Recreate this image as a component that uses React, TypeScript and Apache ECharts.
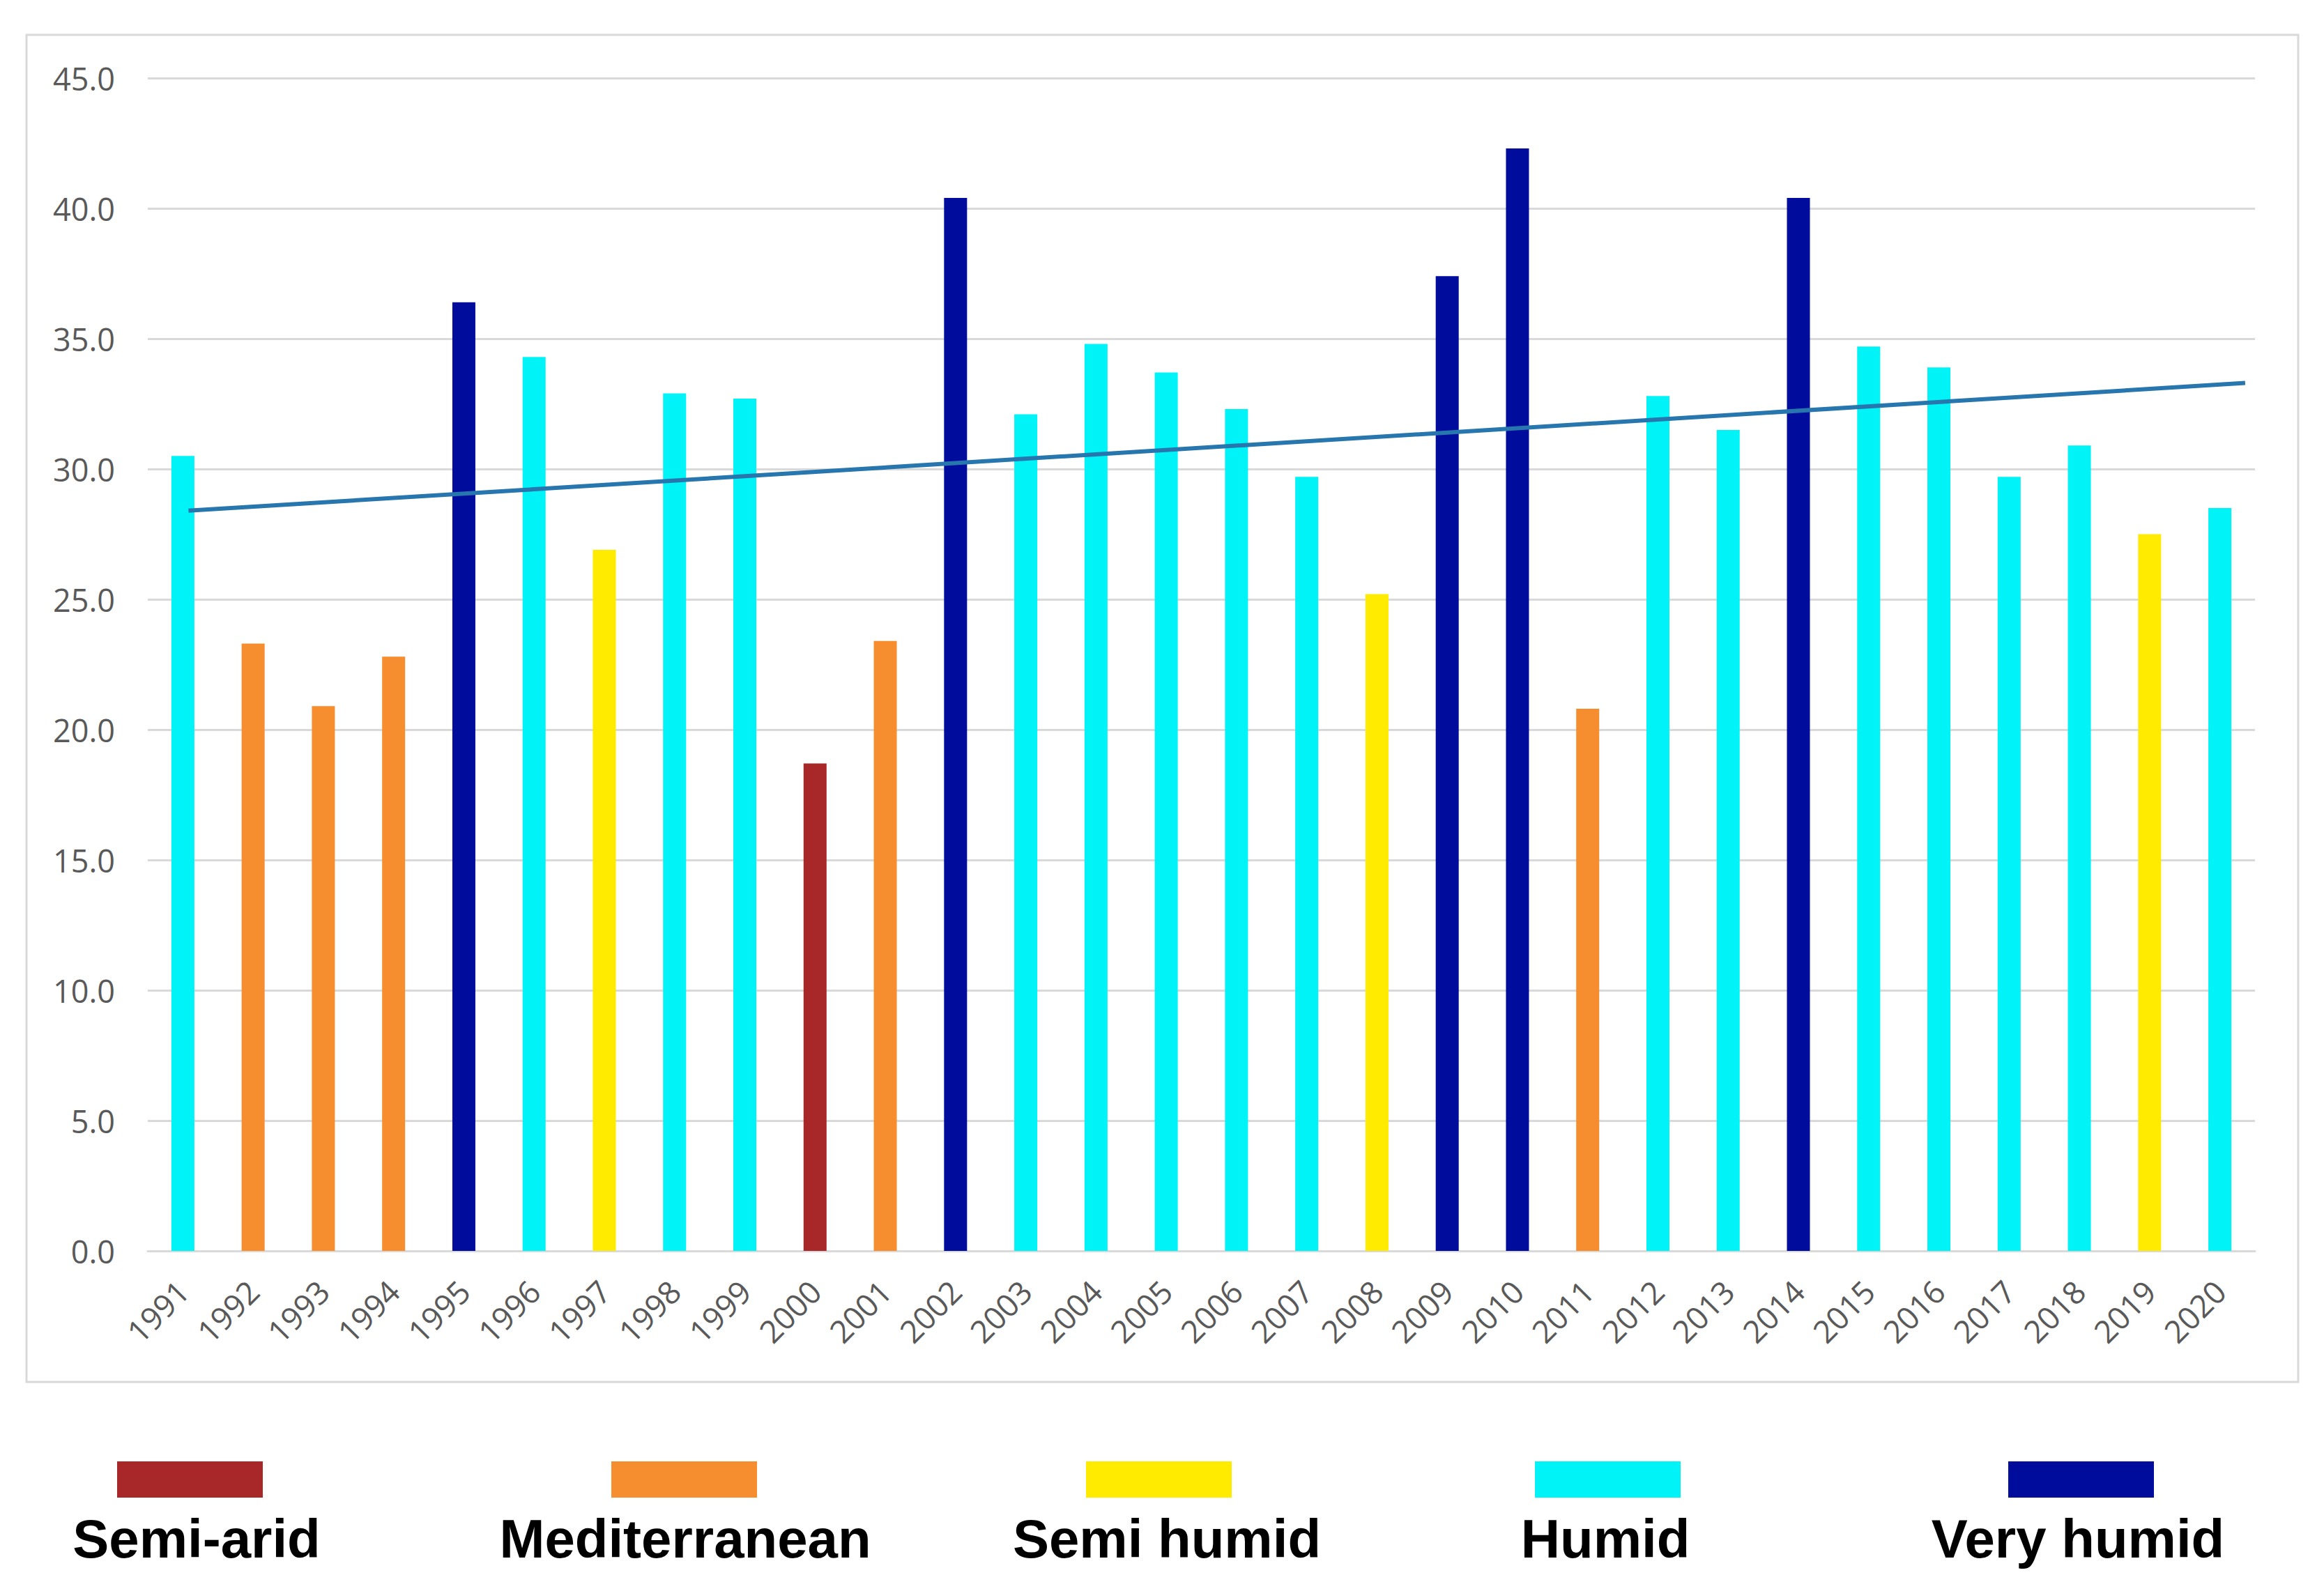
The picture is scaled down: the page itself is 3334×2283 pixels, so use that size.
import React, { useEffect, useRef } from "react";
import * as echarts from "echarts";

const years = [
  "1991", "1992", "1993", "1994", "1995", "1996", "1997", "1998", "1999", "2000",
  "2001", "2002", "2003", "2004", "2005", "2006", "2007", "2008", "2009", "2010",
  "2011", "2012", "2013", "2014", "2015", "2016", "2017", "2018", "2019", "2020",
];
const values = [
  30.5, 23.3, 20.9, 22.8, 36.4, 34.3, 26.9, 32.9, 32.7, 18.7,
  23.4, 40.4, 32.1, 34.8, 33.7, 32.3, 29.7, 25.2, 37.4, 42.3,
  20.8, 32.8, 31.5, 40.4, 34.7, 33.9, 29.7, 30.9, 27.5, 28.5,
];
// index into classNames per year
const yearClass = [
  3, 1, 1, 1, 4, 3, 2, 3, 3, 0,
  1, 4, 3, 3, 3, 3, 3, 2, 4, 4,
  1, 3, 3, 4, 3, 3, 3, 3, 2, 3,
];
const classNames = ["Semi-arid", "Mediterranean", "Semi humid", "Humid", "Very humid"];
const classColors = ["#A8282A", "#F68D2E", "#FFEB00", "#00F3F7", "#000C9C"];
// trend line end points (category index, value)
const trendX = [0.08, 29.36];
const trendY = [28.4, 33.3];
const yTicks = { min: 0, max: 45, interval: 5 };

const legendRectCenters = [272, 981, 1662, 2306, 2985];
const legendTextCenters = [282, 983, 1674, 2303, 2981];

export default function App() {
  const ref = useRef<HTMLDivElement>(null);
  useEffect(() => {
    if (!ref.current) return;
    const chart = echarts.init(ref.current, null, { renderer: "svg" });
    const legendGraphics: any[] = [];
    classNames.forEach((name, i) => {
      legendGraphics.push({
        type: "rect",
        shape: { x: legendRectCenters[i] - 104, y: 2097, width: 209, height: 52 },
        style: { fill: classColors[i] },
      });
      legendGraphics.push({
        type: "text",
        x: legendTextCenters[i],
        y: 2208,
        style: {
          text: name,
          fill: "#000000",
          font: "bold 78px 'Liberation Sans', Arial, sans-serif",
          textAlign: "center",
          textVerticalAlign: "middle",
        },
      });
    });
    chart.setOption({
      animation: false,
      backgroundColor: "#ffffff",
      grid: { left: 212, right: 99, top: 112, bottom: 488, containLabel: false },
      xAxis: [
        {
          type: "category",
          data: years,
          axisTick: { show: false },
          axisLine: { lineStyle: { color: "#d9d9d9", width: 3 } },
          axisLabel: {
            rotate: 45,
            margin: 50,
            color: "#595959",
            fontSize: 45,
            fontFamily: "'Open Sans', sans-serif",
            interval: 0,
          },
        },
        { type: "value", min: -0.5, max: 29.5, show: false },
      ],
      yAxis: {
        type: "value",
        min: yTicks.min,
        max: yTicks.max,
        interval: yTicks.interval,
        axisLine: { show: false },
        axisTick: { show: false },
        splitLine: { lineStyle: { color: "#d9d9d9", width: 3 } },
        axisLabel: {
          margin: 47,
          color: "#595959",
          fontSize: 45,
          fontFamily: "'Open Sans', sans-serif",
          formatter: (v: number) => v.toFixed(1),
        },
      },
      series: [
        {
          type: "bar",
          barWidth: 33,
          data: values.map((v, i) => ({
            value: v,
            itemStyle: { color: classColors[yearClass[i]] },
          })),
        },
        {
          type: "line",
          xAxisIndex: 1,
          symbol: "none",
          z: 5,
          lineStyle: { color: "#2776AE", width: 6 },
          data: trendX.map((x, i) => [x, trendY[i]]),
        },
      ],
      graphic: [
        {
          type: "rect",
          shape: { x: 38, y: 50, width: 3259, height: 1933 },
          style: { fill: "none", stroke: "#d9d9d9", lineWidth: 3 },
          z: -1,
        },
        ...legendGraphics,
      ],
    });
    return () => chart.dispose();
  }, []);
  return (
    <div
      ref={ref}
      style={{ position: "fixed", left: 0, top: 0, width: 3334, height: 2283 }}
    />
  );
}
